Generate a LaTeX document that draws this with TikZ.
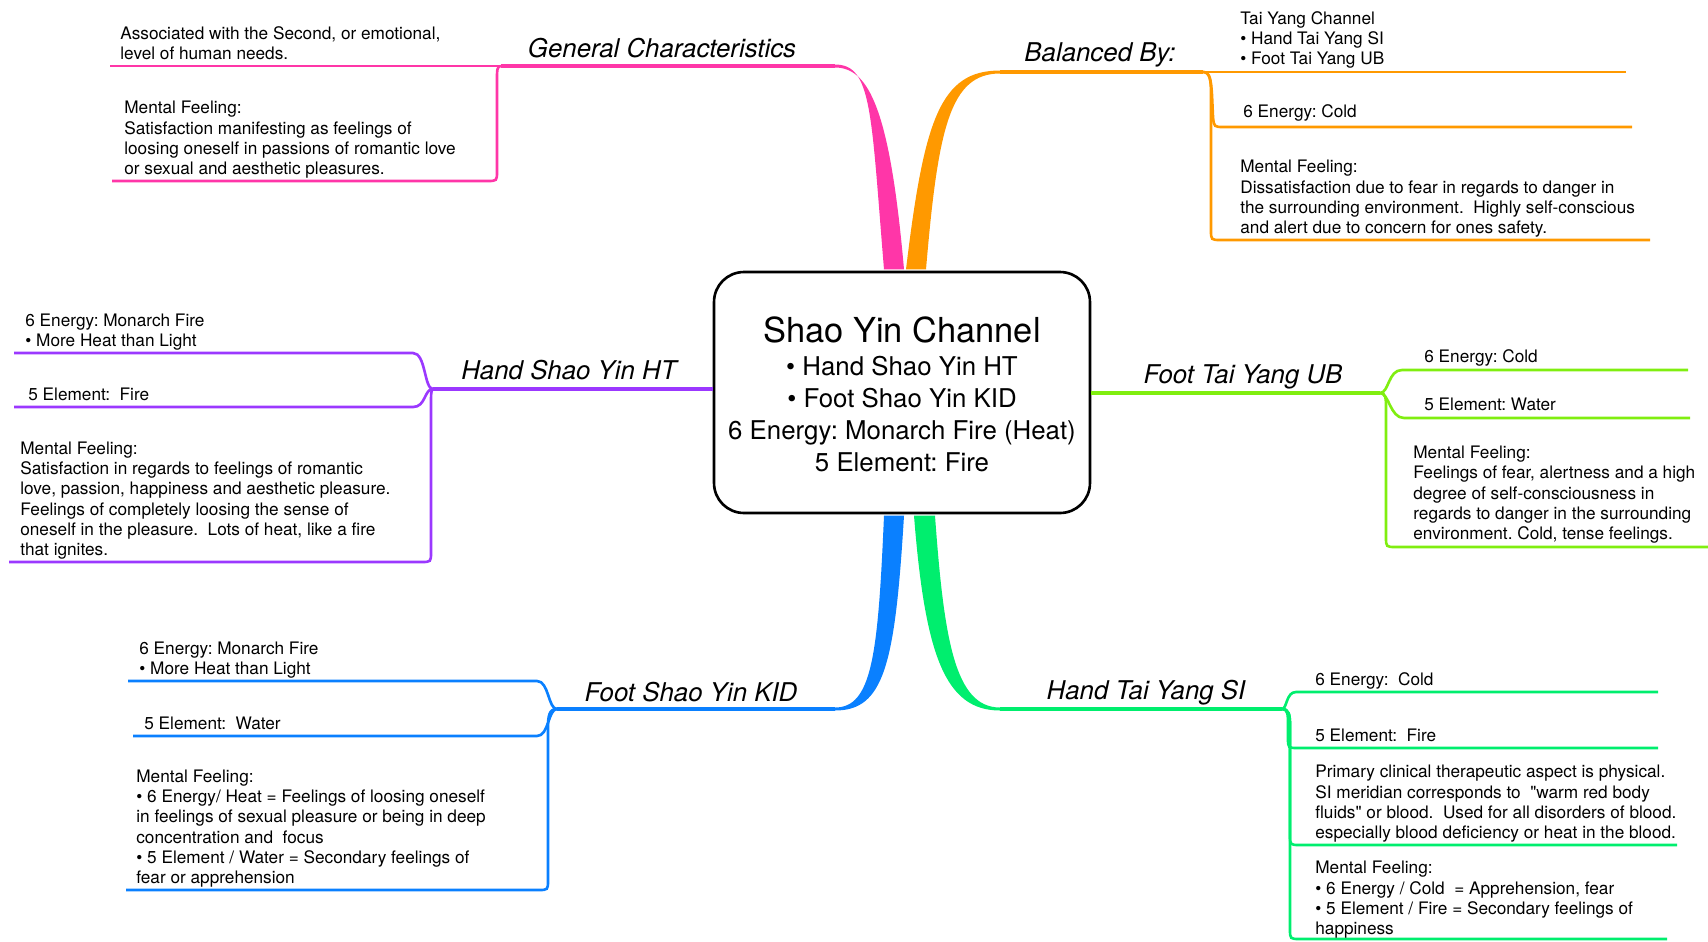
\documentclass[tikz,border=0pt]{standalone}
\usepackage{fontspec}
\setmainfont{TeX Gyre Heros}[Ligatures=TeXOff]
\usetikzlibrary{calc}
\definecolor{gcpink}{HTML}{FF36A8}
\definecolor{bborange}{HTML}{FF9900}
\definecolor{htpurple}{HTML}{9B38FF}
\definecolor{tylime}{HTML}{80EE10}
\definecolor{kdblue}{HTML}{0A80FF}
\definecolor{tsgreen}{HTML}{00EE6E}
\newcommand\leaffont{\fontsize{9.8}{11.5}\selectfont\frenchspacing}
\newcommand\topicfont{\fontsize{14.7}{17}\selectfont\itshape}

\begin{document}
\begin{tikzpicture}[x=0.02cm,y=-0.02cm]
\tikzset{core/.style={draw,line width=1.5pt,rounded corners=17pt,fill=white,
  minimum width=7.52cm,minimum height=4.82cm,align=center,
  font=\fontsize{14.7}{18.2}\selectfont\frenchspacing},
topic/.style={anchor=base,inner sep=0pt,font=\topicfont},
leaf/.style={anchor=south west,align=left,inner sep=0pt,font=\leaffont,
  execute at end node=\strut},
trunk/.style={line width=1.8pt,color=#1},
twig/.style={line width=1.5pt,color=#1}}
\useasboundingbox (0,0) rectangle (1708,941);

\node[core] (core) at (902,392.5) {\rule{0pt}{16.8pt}{\fontsize{19.6}{22}\selectfont Shao Yin Channel}\\[1pt]
  • Hand Shao Yin HT\\ • Foot Shao Yin KID\\ 6 Energy: Monarch Fire (Heat)\\ 5 Element: Fire};

% General Characteristics
\fill[gcpink] ($(core.north)+(-18,-1.3)$) .. controls (871,112) and (872,64.5) .. (835,64.5)
  -- (835,67.5) .. controls (869,67.5) and (890,110) .. ($(core.north)+(2,-1.3)$) -- cycle;
\coordinate (gcRoot) at (835,66);
\coordinate (gcHub) at (501,66);
\draw[trunk=gcpink] (gcRoot) -- (gcHub);
\node[topic] (gcTitle) at (662,57) {General Characteristics};
\coordinate (gcEndA) at (110,66);
\coordinate (gcEndB) at (112,181);
\draw[twig=gcpink] (gcHub) -- (gcEndA);
\draw[twig=gcpink] (gcHub) .. controls (497,66) and (497,70) .. (497,80) -- (497,171)
  .. controls (497,181) .. (487,181) -- (gcEndB);
\node[leaf] (gcA) at (120,66) {Associated with the Second, or emotional,\\level of human needs.};
\node[leaf] (gcB) at (124,181) {Mental Feeling:\\Satisfaction manifesting as feelings of\\
  loosing oneself in passions of romantic love\\or sexual and aesthetic pleasures.};

% Balanced By
\fill[bborange] ($(core.north)+(4,-1.3)$) .. controls (924,120) and (940,70.5) .. (1000,70.5)
  -- (1000,73.5) .. controls (950,73.5) and (938,128) .. ($(core.north)+(24,-1.3)$) -- cycle;
\coordinate (bbRoot) at (1000,72);
\coordinate (bbHub) at (1203,72);
\draw[trunk=bborange] (bbRoot) -- (bbHub);
\node[topic] (bbTitle) at (1100,61) {Balanced By:};
\coordinate (bbEndA) at (1626,72);
\coordinate (bbEndB) at (1632,127);
\coordinate (bbEndC) at (1650,240);
\draw[twig=bborange] (bbHub) -- (bbEndA);
\draw[twig=bborange] (bbHub) .. controls (1210,72) and (1211,80) .. (1212,95) -- (1213,117)
  .. controls (1214,127) .. (1224,127) -- (bbEndB);
\draw[twig=bborange] (bbHub) .. controls (1210,72) and (1211,80) .. (1211,95) -- (1211,230)
  .. controls (1211,240) .. (1221,240) -- (bbEndC);
\node[leaf] (bbA) at (1240,71) {Tai Yang Channel\\• Hand Tai Yang SI\\• Foot Tai Yang UB};
\node[leaf] (bbB) at (1243,124) {6 Energy: Cold};
\node[leaf] (bbC) at (1240,240) {Mental Feeling:\\Dissatisfaction due to fear in regards to danger in\\
  the surrounding environment.\ \ Highly self-conscious\\and alert due to concern for ones safety.};

% Hand Shao Yin HT
\coordinate (htHub) at (433,389);
\draw[trunk=htpurple] (htHub -| core.west) -- (htHub);
\node[topic] (htTitle) at (569,379) {Hand Shao Yin HT};
\coordinate (htEndA) at (14,353);
\coordinate (htEndB) at (14,407);
\coordinate (htEndC) at (9,562);
\draw[twig=htpurple] (htHub) .. controls (424,389) and (426,353) .. (413,353) -- (htEndA);
\draw[twig=htpurple] (htHub) .. controls (424,389) and (426,407) .. (413,407) -- (htEndB);
\draw[twig=htpurple] (htHub) .. controls (431,389) and (431,395) .. (431,405) -- (431,552)
  .. controls (431,562) .. (421,562) -- (htEndC);
\node[leaf] (htA) at (25,353) {6 Energy: Monarch Fire\\• More Heat than Light};
\node[leaf] (htB) at (28,407) {5 Element:\ \ Fire};
\node[leaf] (htC) at (20,562) {Mental Feeling:\\Satisfaction in regards to feelings of romantic\\
  love, passion, happiness and aesthetic pleasure.\\Feelings of completely loosing the sense of\\
  oneself in the pleasure.\ \ Lots of heat, like a fire\\that ignites.};

% Foot Tai Yang UB
\coordinate (tyHub) at (1380,393);
\draw[trunk=tylime] (tyHub -| core.east) -- (tyHub);
\node[topic] (tyTitle) at (1243,383) {Foot Tai Yang UB};
\coordinate (tyEndA) at (1688,370);
\coordinate (tyEndB) at (1690,418);
\coordinate (tyEndC) at (1708,547);
\draw[twig=tylime] (tyHub) .. controls (1389,393) and (1388,370) .. (1402,370) -- (tyEndA);
\draw[twig=tylime] (tyHub) .. controls (1389,393) and (1390,418) .. (1404,418) -- (tyEndB);
\draw[twig=tylime] (tyHub) .. controls (1386,393) and (1386,398) .. (1386,410) -- (1386,537)
  .. controls (1386,547) .. (1396,547) -- (tyEndC);
\node[leaf] (tyA) at (1424,369) {6 Energy: Cold};
\node[leaf] (tyB) at (1424,417) {5 Element: Water};
\node[leaf] (tyC) at (1413,546) {Mental Feeling:\\Feelings of fear, alertness and a high\\
  degree of self-consciousness in\\regards to danger in the surrounding\\environment. Cold, tense feelings.};

% Foot Shao Yin KID
\fill[kdblue] ($(core.south)+(-18,1.3)$) .. controls (878,655) and (872,707.5) .. (835,707.5)
  -- (835,710.5) .. controls (884,710.5) and (895,665) .. ($(core.south)+(2,1.3)$) -- cycle;
\coordinate (kdRoot) at (835,709);
\coordinate (kdHub) at (557,709);
\draw[trunk=kdblue] (kdRoot) -- (kdHub);
\node[topic] (kdTitle) at (691,701) {Foot Shao Yin KID};
\coordinate (kdEndA) at (128,681);
\coordinate (kdEndB) at (133,736);
\coordinate (kdEndC) at (126,890);
\draw[twig=kdblue] (kdHub) .. controls (548,709) and (549,681) .. (537,681) -- (kdEndA);
\draw[twig=kdblue] (kdHub) .. controls (548,709) and (549,736) .. (537,736) -- (kdEndB);
\draw[twig=kdblue] (kdHub) .. controls (549,709) and (548,716) .. (548,728) -- (548,880)
  .. controls (548,890) .. (538,890) -- (kdEndC);
\node[leaf] (kdA) at (139,681) {6 Energy: Monarch Fire\\• More Heat than Light};
\node[leaf] (kdB) at (144,736) {5 Element:\ \ Water};
\node[leaf] (kdC) at (136,890) {Mental Feeling:\\• 6 Energy/ Heat = Feelings of loosing oneself\\
  in feelings of sexual pleasure or being in deep\\concentration and\ \ focus\\
  • 5 Element / Water = Secondary feelings of\\fear or apprehension};

% Hand Tai Yang SI
\fill[tsgreen] ($(core.south)+(12,1.3)$) .. controls (925,655) and (945,710.5) .. (1000,710.5)
  -- (1000,707.5) .. controls (955,707.5) and (944,640) .. ($(core.south)+(33,1.3)$) -- cycle;
\coordinate (tsRoot) at (1000,709);
\coordinate (tsHub) at (1282,709);
\draw[trunk=tsgreen] (tsRoot) -- (tsHub);
\node[topic] (tsTitle) at (1146,699) {Hand Tai Yang SI};
\coordinate (tsEndA) at (1658,692);
\coordinate (tsEndB) at (1658,748);
\coordinate (tsEndC) at (1677,845);
\coordinate (tsEndD) at (1667,939);
\draw[twig=tsgreen] (tsHub) .. controls (1287,709) and (1286,692) .. (1296,692) -- (tsEndA);
\draw[twig=tsgreen] (tsHub) .. controls (1288,709) and (1288,715) .. (1288,725) -- (1288,738)
  .. controls (1288,748) .. (1298,748) -- (tsEndB);
\draw[twig=tsgreen] (tsHub) .. controls (1289,709) and (1290,715) .. (1290,725) -- (1290,835)
  .. controls (1290,845) .. (1300,845) -- (tsEndC);
\draw[twig=tsgreen] (tsHub) .. controls (1289,709) and (1290,715) .. (1290,725) -- (1290,929)
  .. controls (1290,939) .. (1300,939) -- (tsEndD);
\node[leaf] (tsA) at (1315,692) {6 Energy:\ \ Cold};
\node[leaf] (tsB) at (1315,748) {5 Element:\ \ Fire};
\node[leaf] (tsC) at (1315,845) {Primary clinical therapeutic aspect is physical.\\
  SI meridian corresponds to\ \ "warm red body\\fluids" or blood.\ \ Used for all disorders of blood.\\
  especially blood deficiency or heat in the blood.};
\node[leaf] (tsD) at (1315,941) {Mental Feeling:\\• 6 Energy / Cold\ \ = Apprehension, fear\\
  • 5 Element / Fire = Secondary feelings of\\happiness};
\end{tikzpicture}
\end{document}
